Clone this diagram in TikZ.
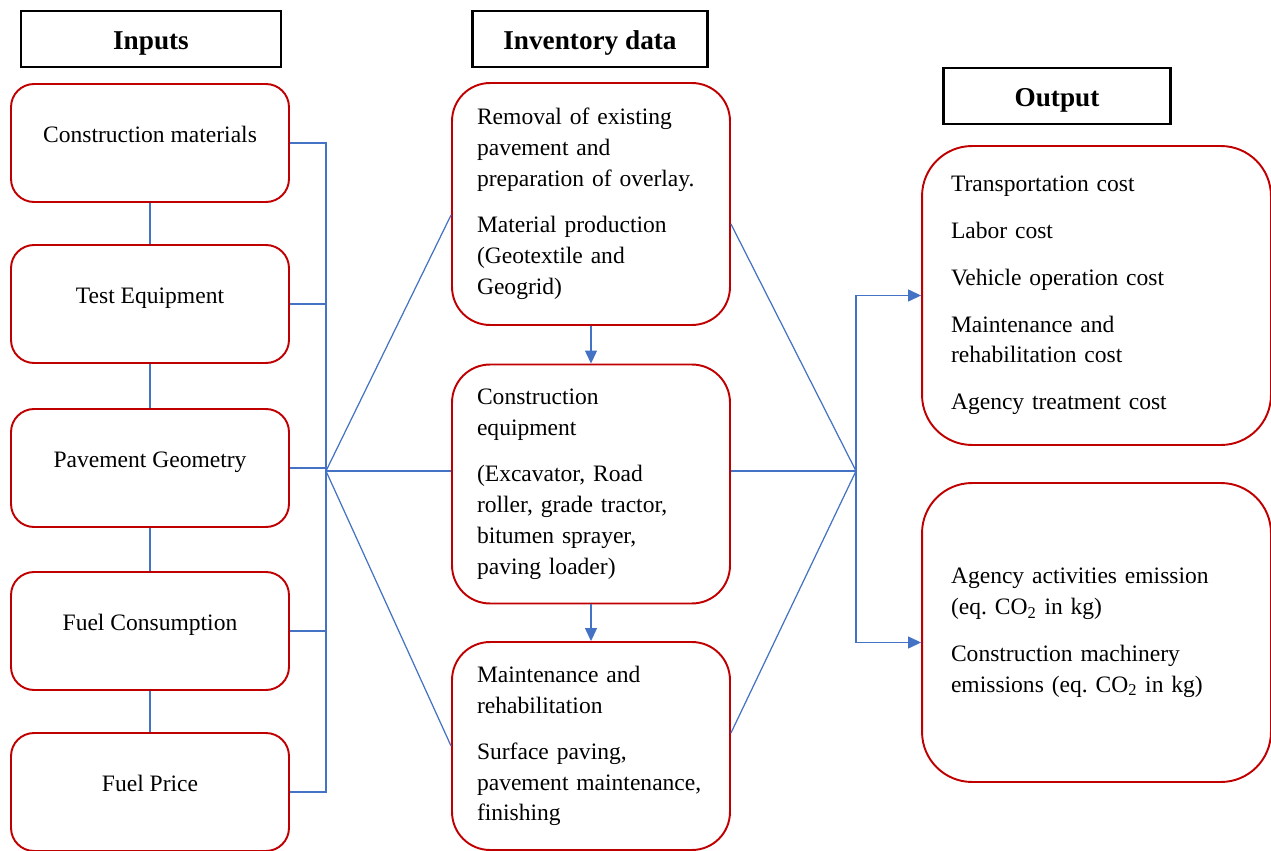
\documentclass[tikz,border=0pt]{standalone}
\usepackage{fontspec}
\setmainfont{Liberation Serif}
\usepackage{xcolor}
\usepackage{tikz}
\usetikzlibrary{arrows.meta, positioning, calc}

\definecolor{boxred}{HTML}{C00000}
\definecolor{linkblue}{HTML}{4472C4}
\newcommand{\bodyfont}{\fontsize{13.4}{17.6}\selectfont}
\frenchspacing

\tikzset{
header/.style = {draw = black, line width = 1.2pt, minimum height = 1.12cm, text height = 14pt, text depth = 2pt, font = \fontsize{15.5}{18}\selectfont\bfseries},
inbox/.style = {draw = boxred, line width = 1.1pt, rounded corners = 0.46cm, minimum width = 5.56cm, minimum height = 2.36cm, text height = 9pt, text depth = 10pt, font = \bodyfont},
invbox/.style = {draw = boxred, line width = 1.1pt, rounded corners = 0.76cm, minimum width = 5.56cm, text width = 4.56cm, inner xsep = 0pt, align = left, font = \bodyfont},
outbox/.style = {draw = boxred, line width = 1.1pt, rounded corners = 1cm, minimum width = 6.98cm, minimum height = 5.98cm, text width = 5.82cm, inner xsep = 0pt, align = left, font = \bodyfont},
link/.style = {draw = linkblue, line width = 0.7pt},
flow/.style = {link, -{Triangle[length = 0.26cm, width = 0.24cm]}}
}

\begin{document}
\begin{tikzpicture}[x = 0.02cm, y = -0.02cm]
\useasboundingbox (0, 0) rectangle (1271, 851);
\node[header, minimum width = 5.2cm] at (151, 39) (hin) {Inputs};
\node[header, minimum width = 4.7cm] at (590, 39) (hinv) {Inventory data};
\node[header, minimum width = 4.54cm] at (1057, 96) (hout) {Output};
\node[inbox] at (150, 143) (cm) {Construction materials};
\node[inbox] at (150, 304) (te) {Test Equipment};
\node[inbox] at (150, 468) (pg) {Pavement Geometry};
\node[inbox] at (150, 631) (fc) {Fuel Consumption};
\node[inbox] at (150, 792) (fp) {Fuel Price};
\node[invbox, minimum height = 4.84cm] at (591, 204) (rm) {Removal of existing\\ pavement and\\ preparation of overlay.\\[8.5pt] Material production\\ (Geotextile and\\ Geogrid)};
\node[invbox, minimum height = 4.78cm] at (591, 484) (ce) {Construction\\ equipment\\[8.5pt] (Excavator, Road\\ roller, grade tractor,\\ bitumen sprayer,\\ paving loader)};
\node[invbox, minimum height = 4.16cm] at (591, 746) (mr) {Maintenance and\\ rehabilitation\\[8.5pt] Surface paving,\\ pavement maintenance,\\ finishing};
\node[outbox] at (1096.5, 295.5) (cost) {Transportation cost\\[9pt] Labor cost\\[9pt] Vehicle operation cost\\[9pt] Maintenance and\\ rehabilitation cost\\[9pt] Agency treatment cost};
\node[outbox] at (1096.5, 632.5) (emis) {Agency activities emission\\ (eq. CO\textsubscript{2} in kg)\\[9pt] Construction machinery\\ emissions (eq. CO\textsubscript{2} in kg)};
\coordinate (hubL) at (326, 471);
\coordinate (hubR) at (856, 471);
\foreach \i\j in {cm/te, te/pg, pg/fc, fc/fp}{\draw[link] (\i.south) -- (\j.north);}
\foreach \n in {cm, te, pg, fc, fp}{\draw[link] (\n.east) -| (hubL);}
\draw[link] (hubL) -- ([yshift = -0.22cm]rm.west);
\draw[link] (hubL) -- (hubL -| ce.west);
\draw[link] (hubL) -- (mr.west);
\draw[link] ([yshift = -0.4cm]rm.east) -- (hubR);
\draw[link] (hubR -| ce.east) -- (hubR);
\draw[link] ([yshift = 0.26cm]mr.east) -- (hubR);
\draw[flow] (rm) -- (ce);
\draw[flow] (ce) -- (mr);
\draw[flow] (hubR) |- (cost.west);
\draw[flow] (hubR) |- ([yshift = -0.2cm]emis.west);
\end{tikzpicture}
\end{document}
